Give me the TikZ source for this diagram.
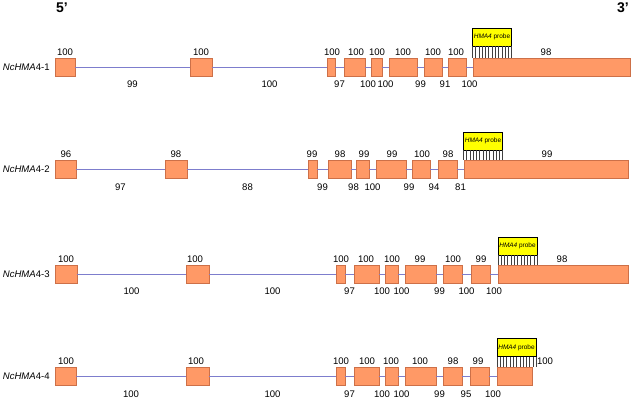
\documentclass[tikz,border=0pt]{standalone}
\usepackage{fontspec}
\setmainfont{Liberation Sans}
\usetikzlibrary{calc, positioning}
\definecolor{exonfill}{RGB}{255,153,102}
\definecolor{exonedge}{RGB}{205,112,72}
\definecolor{intronline}{RGB}{125,125,205}
\definecolor{probefill}{RGB}{255,255,0}

\begin{document}
\begin{tikzpicture}[
    x=0.025cm, y=-0.025cm,
    exon/.style={draw=exonedge, fill=exonfill, minimum height=0.46cm, inner sep=0pt},
    intron/.style={draw=intronline, semithick},
    numlab/.style={font=\fontsize{6.8}{8}\selectfont, inner sep=0pt},
    intlab/.style={numlab, below=0.34cm},
    probe/.style={draw, fill=probefill, minimum width=0.97cm, minimum height=0.45cm,
        inner sep=0pt, font=\fontsize{4.6}{5}\selectfont},
    endlab/.style={font=\bfseries\fontsize{10}{12}\selectfont, inner sep=0pt},
    hatch/.style={thin, black!75}
]
\useasboundingbox (0,0) rectangle (633,400);

\node[endlab] (five) at (62,8) {5’};
\node[endlab] (three) at (623,8) {3’};

% NcHMA4-1
\foreach \a/\b [count=\i] in {55/75, 190/212, 327/335, 344/365, 371/382, 389/417, 424/442, 448/466, 473/630} {
    \pgfmathsetmacro\w{(\b-\a)*0.025}
    \node[exon, minimum width=\w cm] (r1e\i) at ({(\a+\b)/2},67) {};
}
\foreach \lab [count=\i] in {99,100,97,100,100,99,91,100} {
    \pgfmathtruncatemacro\j{\i+1}
    \draw[intron] (r1e\i) -- node[intlab] (r1i\i) {\lab} (r1e\j);
}
\foreach \x/\lab [count=\i] in {65/100, 201/100, 332/100, 356/100, 377/100, 403/100, 433/100, 456/100, 546/98}
    \node[numlab] (r1t\i) at (\x,52) {\lab};
\node[numlab, left=0.12cm of r1e1] (r1n) {\textit{NcHMA}4-1};
\node[probe] (r1p) at (492,37) {\textit{HMA4} probe};
\foreach \k in {0,...,12} {
    \coordinate (r1h\k) at ($(r1p.south west)!{\k/12}!(r1p.south east)$);
    \draw[hatch] (r1h\k) -- (r1h\k |- r1e9.north);
}

% NcHMA4-2
\foreach \a/\b [count=\i] in {55/76, 165/187, 308/317, 328/351, 356/369, 376/406, 412/430, 438/457, 464/628} {
    \pgfmathsetmacro\w{(\b-\a)*0.025}
    \node[exon, minimum width=\w cm] (r2e\i) at ({(\a+\b)/2},169.5) {};
}
\foreach \lab [count=\i] in {97,88,99,98,100,99,94,81} {
    \pgfmathtruncatemacro\j{\i+1}
    \draw[intron] (r2e\i) -- node[intlab] (r2i\i) {\lab} (r2e\j);
}
\foreach \x/\lab [count=\i] in {66/96, 176/98, 312/99, 340/98, 364/99, 392/99, 422/100, 448/98, 547/99}
    \node[numlab] (r2t\i) at (\x,154.5) {\lab};
\node[numlab, left=0.12cm of r2e1] (r2n) {\textit{NcHMA}4-2};
\node[probe] (r2p) at (483,141) {\textit{HMA4} probe};
\foreach \k in {0,...,12} {
    \coordinate (r2h\k) at ($(r2p.south west)!{\k/12}!(r2p.south east)$);
    \draw[hatch] (r2h\k) -- (r2h\k |- r2e9.north);
}

% NcHMA4-3
\foreach \a/\b [count=\i] in {55/77, 186/209, 336/345, 354/379, 385/398, 405/436, 443/462, 471/490, 498/628} {
    \pgfmathsetmacro\w{(\b-\a)*0.025}
    \node[exon, minimum width=\w cm] (r3e\i) at ({(\a+\b)/2},274) {};
}
\foreach \lab [count=\i] in {100,100,97,100,100,99,100,100} {
    \pgfmathtruncatemacro\j{\i+1}
    \draw[intron] (r3e\i) -- node[intlab] (r3i\i) {\lab} (r3e\j);
}
\foreach \x/\lab [count=\i] in {66/100, 195/100, 341/100, 366/100, 392/100, 420/99, 453/100, 481/99, 562/98}
    \node[numlab] (r3t\i) at (\x,259) {\lab};
\node[numlab, left=0.12cm of r3e1] (r3n) {\textit{NcHMA}4-3};
\node[probe] (r3p) at (517.5,246) {\textit{HMA4} probe};
\foreach \k in {0,...,12} {
    \coordinate (r3h\k) at ($(r3p.south west)!{\k/12}!(r3p.south east)$);
    \draw[hatch] (r3h\k) -- (r3h\k |- r3e9.north);
}

% NcHMA4-4
\foreach \a/\b [count=\i] in {55/76, 186/209, 336/345, 354/379, 385/398, 405/436, 443/462, 470/489, 497/532} {
    \pgfmathsetmacro\w{(\b-\a)*0.025}
    \node[exon, minimum width=\w cm] (r4e\i) at ({(\a+\b)/2},376.5) {};
}
\foreach \lab [count=\i] in {100,100,97,100,100,99,95,100} {
    \pgfmathtruncatemacro\j{\i+1}
    \draw[intron] (r4e\i) -- node[intlab] (r4i\i) {\lab} (r4e\j);
}
\foreach \x/\lab [count=\i] in {66/100, 196/100, 341/100, 367/100, 391/100, 420/100, 453/98, 478/99, 545/100}
    \node[numlab] (r4t\i) at (\x,361.5) {\lab};
\node[numlab, left=0.12cm of r4e1] (r4n) {\textit{NcHMA}4-4};
\node[probe] (r4p) at (516.5,347.5) {\textit{HMA4} probe};
\foreach \k in {0,...,12} {
    \coordinate (r4h\k) at ($(r4p.south west)!{\k/12}!(r4p.south east)$);
    \draw[hatch] (r4h\k) -- (r4h\k |- r4e9.north);
}
\end{tikzpicture}
\end{document}
